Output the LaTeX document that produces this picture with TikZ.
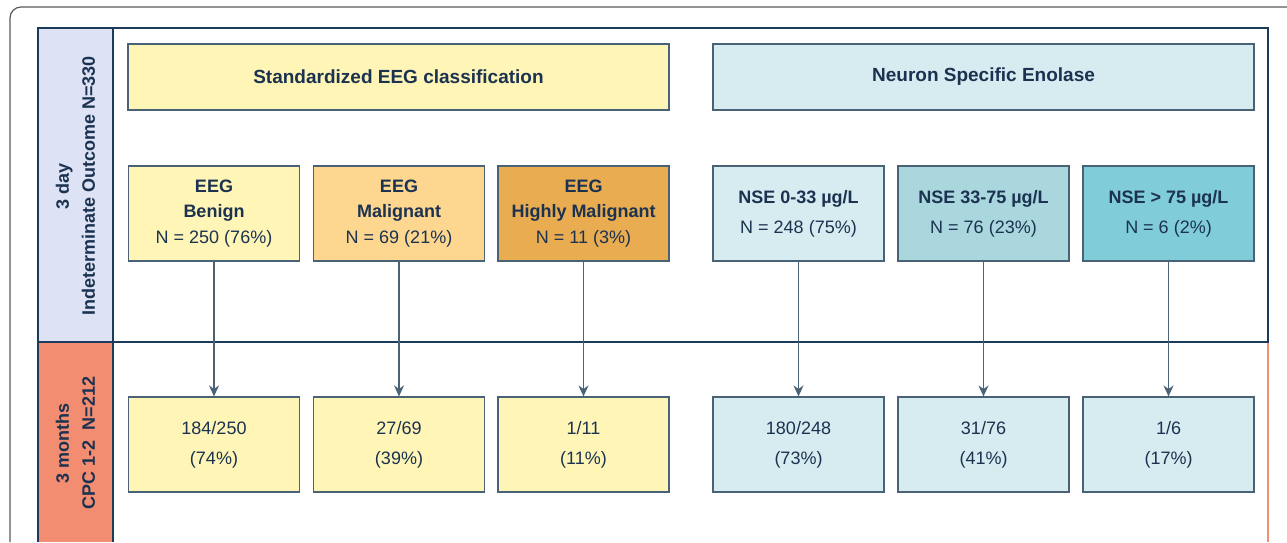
\documentclass[tikz,border=0pt]{standalone}
\usepackage{fontspec}
\setmainfont{Liberation Sans}
\usetikzlibrary{arrows.meta}
\definecolor{navy}{HTML}{1C3A5C}
\definecolor{slate}{HTML}{4A6276}
\definecolor{ink}{HTML}{1B3250}
\definecolor{frame}{HTML}{5A5A5A}
\definecolor{eegA}{HTML}{FEF5B6}
\definecolor{eegB}{HTML}{FDD690}
\definecolor{eegC}{HTML}{E9AC50}
\definecolor{nseA}{HTML}{D6ECF1}
\definecolor{nseB}{HTML}{A9D7DD}
\definecolor{nseC}{HTML}{80CCD9}
\definecolor{lavender}{HTML}{DDE2F4}
\definecolor{salmon}{HTML}{F28D72}
\tikzset{
  box/.style={draw=slate, line width=1.2pt, minimum width=171pt, minimum height=95pt,
    inner sep=0pt, align=center, text=ink, font=\fontsize{18}{30}\selectfont},
  eegbox/.style={box, font=\fontsize{18}{25.5}\selectfont},
  hdr/.style={box, minimum width=541pt, minimum height=66pt, font=\fontsize{19}{22}\selectfont\bfseries},
  side/.style={rotate=90, align=center, text=ink, font=\fontsize{18}{26}\selectfont\bfseries},
}
\begin{document}
\begin{tikzpicture}[x=1pt, y=-1pt, >={Stealth[length=11pt,width=10pt]}]
  \useasboundingbox (0,0) rectangle (1287,542);
  % outer frame
  \draw[frame, line width=1.2pt, rounded corners=11pt] (1287,7) -- (10,7) -- (10,542);
  % side strips
  \fill[lavender] (38,28) rectangle (113,342);
  \fill[salmon] (38,342) rectangle (113,542);
  \draw[salmon, line width=2pt] (1268,342) -- (1268,542);
  \draw[navy, line width=2.6pt] (38,542) -- (38,28) -- (1268,28) -- (1268,342) -- (38,342);
  \draw[navy, line width=2.6pt] (113,28) -- (113,542);
  \node[side] (day) at (75.5,186) {3 day\\Indeterminate Outcome N=330};
  \node[side] (month) at (75.5,443) {3 months\\CPC 1-2\ \ N=212};

  % headers
  \node[hdr, fill=eegA] (heeg) at (398.5,77) {Standardized EEG classification};
  \node[hdr, fill=nseA] (hnse) at (983.5,77) {Neuron Specific Enolase};

  % groups at 3 days
  \node[eegbox, fill=eegA] (e1) at (214,213.5) {\textbf{EEG}\\\textbf{Benign}\\N = 250 (76\%)};
  \node[eegbox, fill=eegB] (e2) at (399,213.5) {\textbf{EEG}\\\textbf{Malignant}\\N = 69 (21\%)};
  \node[eegbox, fill=eegC] (e3) at (583.5,213.5) {\textbf{EEG}\\\textbf{Highly Malignant}\\N = 11 (3\%)};
  \node[box, fill=nseA] (n1) at (798.5,213.5) {\textbf{NSE 0-33 µg/L}\\N = 248 (75\%)};
  \node[box, fill=nseB] (n2) at (983.5,213.5) {\textbf{NSE 33-75 µg/L}\\N = 76 (23\%)};
  \node[box, fill=nseC] (n3) at (1168.5,213.5) {\textbf{NSE > 75 µg/L}\\N = 6 (2\%)};

  % outcome at 3 months
  \node[box, fill=eegA] (r1) at (214,444.5) {184/250\\(74\%)};
  \node[box, fill=eegA] (r2) at (399,444.5) {27/69\\(39\%)};
  \node[box, fill=eegA] (r3) at (583.5,444.5) {1/11\\(11\%)};
  \node[box, fill=nseA] (r4) at (798.5,444.5) {180/248\\(73\%)};
  \node[box, fill=nseA] (r5) at (983.5,444.5) {31/76\\(41\%)};
  \node[box, fill=nseA] (r6) at (1168.5,444.5) {1/6\\(17\%)};

  \foreach \a/\b in {e1/r1, e2/r2, e3/r3, n1/r4, n2/r5, n3/r6}
    \draw[->, slate, line width=1.4pt] (\a.south) -- (\b.north);
\end{tikzpicture}
\end{document}
